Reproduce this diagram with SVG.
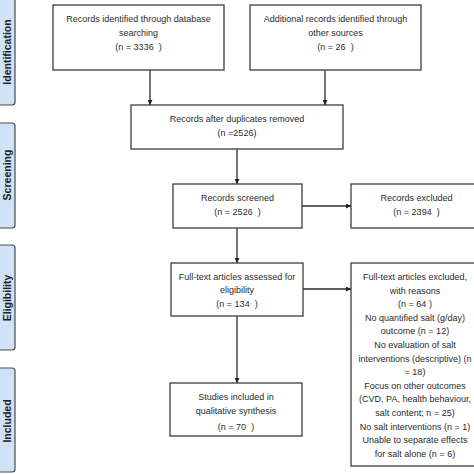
<svg xmlns="http://www.w3.org/2000/svg" width="474" height="474" viewBox="0 0 474 474">
<style>
.box{fill:#fff;stroke:#3d3d3d;stroke-width:1.3}
.tab{fill:#cfe2f6;stroke:#4a4a4a;stroke-width:1.2}
.t{font-family:"Liberation Sans",Arial,sans-serif;font-size:9px;fill:#2b2b2b;text-anchor:middle;white-space:pre}
.tl{font-family:"Liberation Sans",Arial,sans-serif;font-size:10.5px;font-weight:bold;fill:#1e1e1e;text-anchor:middle}
.c{stroke:#2b2b2b;stroke-width:1.3;fill:none;marker-end:url(#ah)}
</style>
<defs>
<marker id="ah" viewBox="0 0 10 10" refX="10" refY="5" markerWidth="5" markerHeight="5" markerUnits="userSpaceOnUse" orient="auto">
<path d="M0,0 L10,5 L0,10 z" fill="#1e1e1e"/>
</marker>
</defs>
<rect width="474" height="474" fill="#fff"/>
<g id="tabs">
<g id="tab-identification"><rect class="tab" x="-10" y="-4" width="25" height="109" rx="3"/><text class="tl" transform="translate(11,52) rotate(-90)">Identification</text></g>
<g id="tab-screening"><rect class="tab" x="-10" y="123" width="25" height="105" rx="3"/><text class="tl" transform="translate(11,175) rotate(-90)">Screening</text></g>
<g id="tab-eligibility"><rect class="tab" x="-10" y="245" width="25" height="105" rx="3"/><text class="tl" transform="translate(11,298) rotate(-90)">Eligibility</text></g>
<g id="tab-included"><rect class="tab" x="-10" y="368" width="25" height="104" rx="3"/><text class="tl" transform="translate(11,421) rotate(-90)">Included</text></g>
</g>
<g id="connectors">
<line class="c" x1="150" y1="70" x2="150" y2="105"/>
<line class="c" x1="325" y1="70" x2="325" y2="105"/>
<line class="c" x1="237" y1="149" x2="237" y2="184"/>
<line class="c" x1="302" y1="206" x2="351" y2="206"/>
<line class="c" x1="237" y1="228" x2="237" y2="263"/>
<line class="c" x1="303" y1="289" x2="351" y2="289"/>
<line class="c" x1="237" y1="316" x2="237" y2="383"/>
</g>
<g id="n-db">
<rect class="box" x="53" y="5" width="171" height="65"/>
<text class="t" x="138.5" y="22">Records identified through database</text>
<text class="t" x="138.5" y="36">searching</text>
<text class="t" x="138.5" y="50">(n = 3336  )</text>
</g>
<g id="n-other">
<rect class="box" x="250" y="5" width="171" height="65"/>
<text class="t" x="335.5" y="22">Additional records identified through</text>
<text class="t" x="335.5" y="36">other sources</text>
<text class="t" x="335.5" y="50">(n = 26  )</text>
</g>
<g id="n-dup">
<rect class="box" x="131" y="105" width="212" height="44"/>
<text class="t" x="237" y="122">Records after duplicates removed</text>
<text class="t" x="237" y="136">(n =2526)</text>
</g>
<g id="n-screened">
<rect class="box" x="173" y="184" width="129" height="44"/>
<text class="t" x="237.5" y="201">Records screened</text>
<text class="t" x="237.5" y="215">(n = 2526  )</text>
</g>
<g id="n-excluded">
<rect class="box" x="351" y="184" width="130" height="44"/>
<text class="t" x="416.5" y="201">Records excluded</text>
<text class="t" x="416.5" y="215">(n = 2394  )</text>
</g>
<g id="n-fulltext">
<rect class="box" x="171" y="263" width="132" height="53"/>
<text class="t" x="237" y="280">Full-text articles assessed for</text>
<text class="t" x="237" y="293">eligibility</text>
<text class="t" x="237" y="307">(n = 134  )</text>
</g>
<g id="n-ft-excluded">
<rect class="box" x="351" y="263" width="130" height="203"/>
<text class="t" x="415" y="280">Full-text articles excluded,</text>
<text class="t" x="415" y="293.6">with reasons</text>
<text class="t" x="415" y="307.2">(n = 64 )</text>
<text class="t" x="415" y="320.8">No quantified salt (g/day)</text>
<text class="t" x="415" y="334.4">outcome (n = 12)</text>
<text class="t" x="415" y="348">No evaluation of salt</text>
<text class="t" x="415" y="361.6">interventions (descriptive) (n</text>
<text class="t" x="415" y="375.2">= 18)</text>
<text class="t" x="415" y="388.8">Focus on other outcomes</text>
<text class="t" x="415" y="402.4">(CVD, PA, health behaviour,</text>
<text class="t" x="415" y="416">salt content; n = 25)</text>
<text class="t" x="415" y="429.6">No salt interventions (n = 1)</text>
<text class="t" x="415" y="443.2">Unable to separate effects</text>
<text class="t" x="415" y="456.8">for salt alone (n = 6)</text>
</g>
<g id="n-included">
<rect class="box" x="170" y="383" width="132" height="53"/>
<text class="t" x="236" y="400">Studies included in</text>
<text class="t" x="236" y="413.5">qualitative synthesis</text>
<text class="t" x="236" y="430">(n = 70  )</text>
</g>
</svg>
